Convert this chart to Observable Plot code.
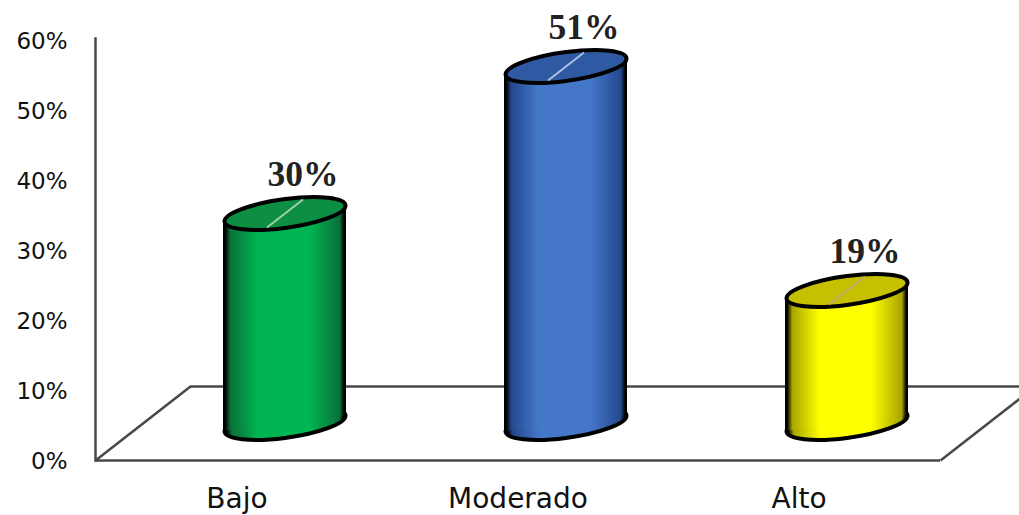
<!DOCTYPE html>
<html>
<head>
<meta charset="utf-8">
<style>
  html, body { margin: 0; padding: 0; background: #fff; }
  svg { display: block; }
</style>
<script src="https://cdn.jsdelivr.net/npm/d3@7"></script>
<script src="https://cdn.jsdelivr.net/npm/@observablehq/plot@0.6"></script>
</head>
<body>
<div id="chart"></div>
<script>
// Nivel categories and their shares
const categories = ["Bajo", "Moderado", "Alto"];
const shares = [30, 51, 19];
const yTicks = [0, 10, 20, 30, 40, 50, 60];

// Cylinder colours: edge of the body, middle of the body, cap, cap leader line
const edgeColors = ["#0a7039", "#24488f", "#a8a500"];
const midColors = ["#00b552", "#4577c9", "#ffff00"];
const capColors = ["#0c8f42", "#2f5aa3", "#c6c000"];
const leaderColors = ["#9fd0ac", "#a9c0e0", "#b9ae6a"];

const rows = categories.map((cat, i) => ({
  cat, value: shares[i], id: "cyl" + i,
  edge: edgeColors[i], mid: midColors[i], cap: capColors[i], leader: leaderColors[i]
}));

// The floor sits behind the axis plane; cylinders stand in the middle of its depth
const depthX = 95, depthY = 74;
const standX = 48, standY = -37;
const halfWidth = 60.5, halfHeight = 14.4, tilt = 8 / 61.5;

// Sheared ellipse for the ends of a cylinder
const ellipse = {
  draw(c) {
    const k = 0.5523, a = halfWidth, b = halfHeight;
    const p = (x, y) => [x, y - x * tilt];
    c.moveTo(...p(a, 0));
    c.bezierCurveTo(...p(a, k * b), ...p(k * a, b), ...p(0, b));
    c.bezierCurveTo(...p(-k * a, b), ...p(-a, k * b), ...p(-a, 0));
    c.bezierCurveTo(...p(-a, -k * b), ...p(-k * a, -b), ...p(0, -b));
    c.bezierCurveTo(...p(k * a, -b), ...p(a, -k * b), ...p(a, 0));
    c.closePath();
  }
};
const leader = { draw(c) { c.moveTo(-18, 14); c.lineTo(18, -14); } };
const floorEdge = { draw(c) { c.moveTo(0, 0); c.lineTo(depthX, -depthY); } };

// Lean the bar's ends so they follow the major axis of the ellipses
function leanBar(index, scales, values, dims, ctx, next) {
  const g = next(index, scales, values, dims, ctx);
  d3.select(g).selectAll("rect").each(function () {
    const r = d3.select(this);
    const cx = +r.attr("x") + +r.attr("width") / 2;
    const deg = -Math.atan(tilt) * 180 / Math.PI;
    r.attr("transform", `translate(${cx},0) skewY(${deg}) translate(${-cx},0)`);
  });
  return g;
}

const fontFamily = "'DejaVu Sans', sans-serif";
const lineColor = "#484848";
const lineWidth = 2.5;

const chart = Plot.plot({
  width: 1019,
  height: 515,
  marginLeft: 95,
  marginRight: 79,
  marginTop: 40,
  marginBottom: 55,
  style: { fontFamily, background: "#fff", color: "#111", overflow: "hidden" },
  x: { domain: categories, paddingInner: 0.563, paddingOuter: 0.2815, align: 0.5 },
  y: { domain: [0, 60] },
  marks: [
    // Floor and vertical axis
    Plot.ruleY([0], { stroke: lineColor, strokeWidth: lineWidth }),
    Plot.ruleY([0], { stroke: lineColor, strokeWidth: lineWidth, dx: depthX, dy: -depthY }),
    Plot.dot([0], { frameAnchor: "bottom-left", symbol: floorEdge, fill: "none", stroke: lineColor, strokeWidth: lineWidth }),
    Plot.dot([0], { frameAnchor: "bottom-right", symbol: floorEdge, fill: "none", stroke: lineColor, strokeWidth: lineWidth }),
    Plot.frame({ anchor: "left", stroke: lineColor, strokeWidth: lineWidth, insetTop: -2 }),

    Plot.axisY({ ticks: yTicks, tickSize: 0, tickPadding: 28, tickFormat: d => d + "%", label: null, fontSize: 23, fill: "#111", dy: 1 }),
    Plot.axisX({ tickSize: 0, tickPadding: 28, label: null, fontSize: 28, fill: "#111" }),

    // Cylinders: base, body, cap and cap leader
    ...rows.flatMap(d => [
      Plot.dot([d], { x: "cat", y: () => 0, symbol: ellipse, dx: standX, dy: standY, fill: `url(#${d.id})`, stroke: "#000", strokeWidth: 4 }),
      Plot.barY([d], { x: "cat", y: "value", dx: standX, dy: standY, fill: `url(#${d.id})`, render: leanBar }),
      Plot.dot([d], { x: "cat", y: "value", symbol: ellipse, dx: standX, dy: standY, fill: d.cap, stroke: "#000", strokeWidth: 4 }),
      Plot.dot([d], { x: "cat", y: "value", symbol: leader, dx: standX, dy: standY, fill: "none", stroke: d.leader, strokeWidth: 2 })
    ]),

    // Value labels
    Plot.text(rows, {
      x: "cat", y: "value", text: d => d.value + "%",
      dx: standX + 18, dy: standY - 28,
      lineAnchor: "bottom", textAnchor: "middle",
      fontFamily: "'Liberation Serif', serif", fontWeight: "bold", fontSize: 35.5, fill: "#222"
    })
  ]
});

// Horizontal shading of the cylinder bodies
const defs = d3.select(chart).insert("defs", ":first-child");
rows.forEach(d => {
  const grad = defs.append("linearGradient").attr("id", d.id).attr("x1", 0).attr("x2", 1).attr("y1", 0).attr("y2", 0);
  [[0, "#000"], [0.018, "#000"], [0.06, d.edge], [0.28, d.mid], [0.7, d.mid], [0.95, d.edge], [0.985, "#000"], [1, "#000"]]
    .forEach(([o, c]) => grad.append("stop").attr("offset", o).attr("stop-color", c));
});

document.getElementById("chart").appendChild(chart);
</script>
</body>
</html>
